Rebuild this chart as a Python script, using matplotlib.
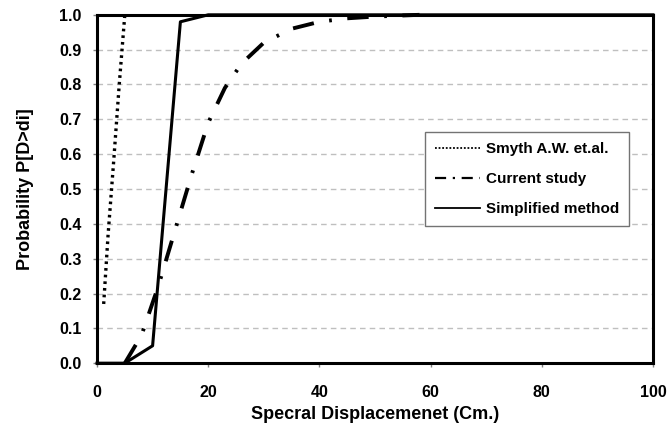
import matplotlib
matplotlib.use("Agg")
import matplotlib.pyplot as plt
from matplotlib.lines import Line2D

# fragility curves: probability of exceeding displacement di
smyth_x = [1.2, 2.0, 3.0, 4.0, 5.0]
smyth_y = [0.17, 0.37, 0.58, 0.80, 1.0]

current_x = [5, 8, 11, 14, 17, 20, 23, 26, 30, 35, 40, 45, 50, 58]
current_y = [0.0, 0.08, 0.22, 0.38, 0.54, 0.69, 0.79, 0.86, 0.92, 0.96, 0.98, 0.99, 0.995, 1.0]

simple_x = [0, 5, 10, 15, 20, 100]
simple_y = [0.0, 0.0, 0.05, 0.98, 1.0, 1.0]

x_ticks = [0, 20, 40, 60, 80, 100]
y_ticks = [0.0, 0.1, 0.2, 0.3, 0.4, 0.5, 0.6, 0.7, 0.8, 0.9, 1.0]

plt.rcParams["font.family"] = ["Liberation Sans", "DejaVu Sans"]
plt.rcParams["font.weight"] = "bold"

fig = plt.figure(figsize=(6.69, 4.36), dpi=100)
ax = fig.add_axes([0.145, 0.167, 0.831, 0.799])

dashdot = (0, (5.5, 4, 0.7, 4))
ax.plot(smyth_x, smyth_y, color="black", lw=2.4, ls=(0, (0.8, 1.2)), clip_on=False)
ax.plot(current_x, current_y, color="black", lw=2.8, ls=dashdot, clip_on=False)
ax.plot(simple_x, simple_y, color="black", lw=2.2, clip_on=False)

ax.set_xlim(0, 100)
ax.set_ylim(0, 1.0)
ax.set_xticks(x_ticks)
ax.set_yticks(y_ticks)
ax.set_yticklabels([f"{v:.1f}" for v in y_ticks])
ax.tick_params(axis="both", labelsize=11.5, direction="out", length=3, width=1, color="0.5")
ax.tick_params(axis="x", pad=13)
ax.tick_params(axis="y", pad=8)
ax.yaxis.grid(True, color="0.75", ls=(0, (4, 3)), lw=1)
ax.set_axisbelow(True)
for sp in ax.spines.values():
    sp.set_linewidth(2.2)
    sp.set_color("black")

ax.set_xlabel("Specral Displacemenet (Cm.)", fontsize=13, fontweight="bold", labelpad=4)
ax.set_ylabel("Probability P[D>di]", fontsize=13, fontweight="bold", labelpad=18)

handles = [
    Line2D([], [], color="black", lw=1.3, ls=(0, (1, 1))),
    Line2D([], [], color="black", lw=1.6, ls=(0, (5, 3, 1, 3))),
    Line2D([], [], color="black", lw=1.3),
]
labels = ["Smyth A.W. et.al.", "Current study", "Simplified method"]
leg = ax.legend(handles, labels, loc="upper left", bbox_to_anchor=(0.636, 0.697),
                bbox_transform=fig.transFigure, borderaxespad=0, fancybox=False,
                framealpha=1, edgecolor="0.45", fontsize=11, handlelength=2.95,
                labelspacing=1.05, borderpad=0.65, handletextpad=0.33)
leg.get_frame().set_linewidth(1)

fig.savefig("out.png", dpi=100)
